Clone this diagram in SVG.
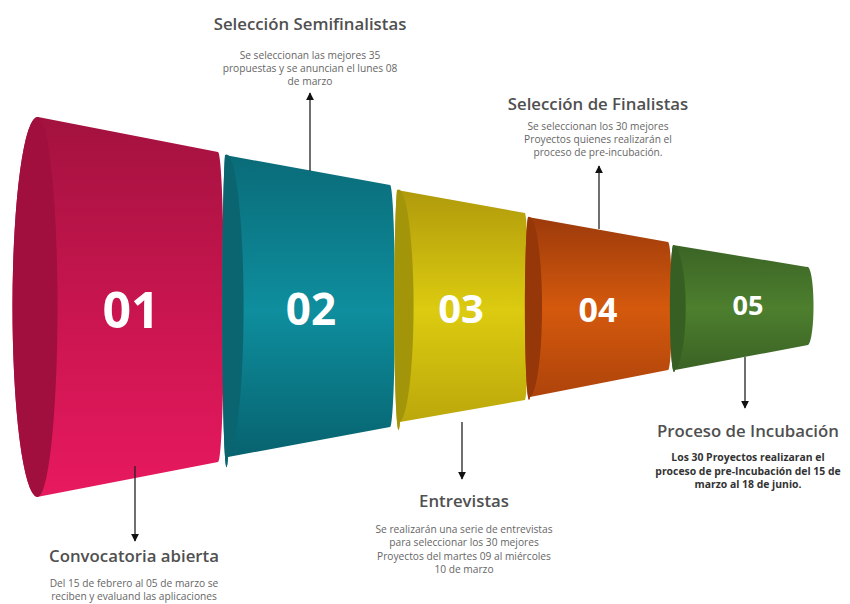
<svg xmlns="http://www.w3.org/2000/svg" width="850" height="604" viewBox="0 0 850 604">
<defs>
<linearGradient id="g1" x1="0" y1="0" x2="0" y2="1"><stop offset="0" stop-color="#a3123f"/><stop offset="0.5" stop-color="#c8154f"/><stop offset="1" stop-color="#e8195f"/></linearGradient>
<linearGradient id="g2" x1="0" y1="0" x2="0" y2="1"><stop offset="0" stop-color="#0a6b78"/><stop offset="0.5" stop-color="#0e8e9e"/><stop offset="1" stop-color="#075f6b"/></linearGradient>
<linearGradient id="g3" x1="0" y1="0" x2="0" y2="1"><stop offset="0" stop-color="#b09a0c"/><stop offset="0.5" stop-color="#dccb10"/><stop offset="1" stop-color="#b9a50b"/></linearGradient>
<linearGradient id="g4" x1="0" y1="0" x2="0" y2="1"><stop offset="0" stop-color="#9c3a0b"/><stop offset="0.5" stop-color="#d4590d"/><stop offset="1" stop-color="#ad430b"/></linearGradient>
<linearGradient id="g5" x1="0" y1="0" x2="0" y2="1"><stop offset="0" stop-color="#3b6425"/><stop offset="0.5" stop-color="#4d7f2e"/><stop offset="1" stop-color="#3a6124"/></linearGradient>
<marker id="ah" viewBox="0 0 10 10" refX="9" refY="5" markerWidth="8" markerHeight="8" markerUnits="userSpaceOnUse" orient="auto"><path d="M0,0 L10,5 L0,10 Z" fill="#111"/></marker>
</defs>
<style>
.num{font-family:"Open Sans","Noto Sans",sans-serif;font-weight:700;fill:#fff;text-anchor:middle}
.ttl{font-family:"Open Sans","Noto Sans",sans-serif;font-weight:600;fill:#505050;text-anchor:middle;font-size:16.8px}
.txt{font-family:"Open Sans","Noto Sans",sans-serif;fill:#666;text-anchor:middle;font-size:10.2px}
.txb{font-family:"Open Sans","Noto Sans",sans-serif;font-weight:700;fill:#333;text-anchor:middle;font-size:10.4px}
.con{stroke:#222;stroke-width:1.3;fill:none;marker-end:url(#ah)}
</style>
<rect width="850" height="604" fill="#fff"/>

<g id="seg1">
<path d="M38,117 L218,152 A6 155 0 0 1 218,462 L37,497 A25 190 0 0 1 38,117 Z" fill="url(#g1)"/>
<path d="M38,117 A25 190 0 0 0 37,497 A20 190 0 0 0 38,117 Z" fill="#a00f3d"/>
<text class="num" x="131" y="328" font-size="50">01</text>
</g>
<g id="seg2">
<path d="M225,155 L390,185 A5 121 0 0 1 390,427 L228,457 A4 151 0 0 1 225,155 Z" fill="url(#g2)"/>
<path d="M225,155 A4 151 0 0 0 228,457 A17 151 0 0 0 225,155 Z" fill="#0a6570"/>
<text class="num" x="311" y="325" font-size="44">02</text>
</g>
<g id="seg3">
<path d="M397,190 L525,213 A4 94 0 0 1 525,400 L400,422 A4 116 0 0 1 397,190 Z" fill="url(#g3)"/>
<path d="M397,190 A4 116 0 0 0 400,422 A15 116 0 0 0 397,190 Z" fill="#a3950a"/>
<text class="num" x="461" y="323" font-size="40">03</text>
</g>
<g id="seg4">
<path d="M528,217 L668,242 A4 64 0 0 1 668,370 L530,397 A4 90 0 0 1 528,217 Z" fill="url(#g4)"/>
<path d="M528,217 A4 90 0 0 0 530,397 A13 90 0 0 0 528,217 Z" fill="#96370a"/>
<text class="num" x="598" y="322" font-size="34">04</text>
</g>
<g id="seg5">
<path d="M673,245 L807,267 A6 39 0 0 1 808,345 L675,370 A4 63 0 0 1 673,245 Z" fill="url(#g5)"/>
<path d="M673,245 A4 63 0 0 0 675,370 A13 63 0 0 0 673,245 Z" fill="#385f23"/>
<text class="num" x="748" y="315" font-size="27">05</text>
</g>

<g id="connectors">
<line class="con" x1="135" y1="466" x2="135" y2="541"/>
<line class="con" x1="310" y1="171" x2="310" y2="93"/>
<line class="con" x1="462" y1="422" x2="462" y2="479"/>
<line class="con" x1="599" y1="229" x2="599" y2="166"/>
<line class="con" x1="745" y1="357" x2="745" y2="408"/>
</g>

<g id="lbl1">
<text class="ttl" x="134" y="562">Convocatoria abierta</text>
<text class="txt" x="134" y="587">Del 15 de febrero al 05 de marzo se</text>
<text class="txt" x="134" y="600">reciben y evaluand las aplicaciones</text>
</g>
<g id="lbl2">
<text class="ttl" x="310" y="30">Selección Semifinalistas</text>
<text class="txt" x="310" y="59">Se seleccionan las mejores 35</text>
<text class="txt" x="310" y="72">propuestas y se anuncian el lunes 08</text>
<text class="txt" x="310" y="85">de marzo</text>
</g>
<g id="lbl3">
<text class="ttl" x="464" y="507">Entrevistas</text>
<text class="txt" x="464" y="533">Se realizarán una serie de entrevistas</text>
<text class="txt" x="464" y="546">para seleccionar los 30 mejores</text>
<text class="txt" x="464" y="560">Proyectos del martes 09 al miércoles</text>
<text class="txt" x="464" y="573">10 de marzo</text>
</g>
<g id="lbl4">
<text class="ttl" x="598" y="110">Selección de Finalistas</text>
<text class="txt" x="598" y="130">Se seleccionan los 30 mejores</text>
<text class="txt" x="598" y="143">Proyectos quienes realizarán el</text>
<text class="txt" x="598" y="156">proceso de pre-incubación.</text>
</g>
<g id="lbl5">
<text class="ttl" x="748" y="437">Proceso de Incubación</text>
<text class="txb" x="748" y="461">Los 30 Proyectos realizaran el</text>
<text class="txb" x="748" y="475">proceso de pre-Incubación del 15 de</text>
<text class="txb" x="748" y="488">marzo al 18 de junio.</text>
</g>
</svg>
